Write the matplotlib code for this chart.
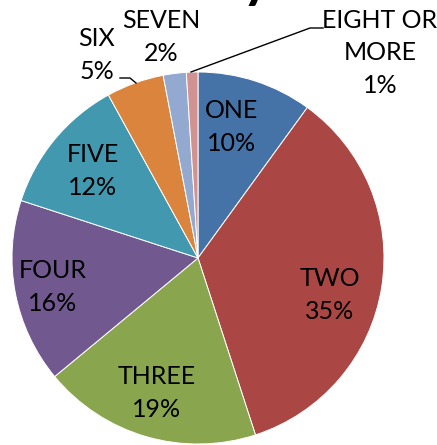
import matplotlib.pyplot as plt

labels = ['ONE', 'TWO', 'THREE', 'FOUR', 'FIVE', 'SIX', 'SEVEN', 'EIGHT OR\nMORE']
values = [10, 35, 19, 16, 12, 5, 2, 1]
colors = ['#4572A7', '#AA4643', '#89A54E', '#71588F', '#4198AF', '#DB843D', '#93A9CF', '#D19392']

# label positions in pixels (x, y from top) of the reference picture
label_px = [(232, 127), (330, 295), (157, 393), (53, 287), (93, 171),
            (97, 55), (161, 37), (380, 53)]

W, H = 437, 445
cx, cy, r = 198, 258, 186


def to_data(px, py):
    return (px - cx) / r, (cy - py) / r


plt.rcParams['font.family'] = ['Lato', 'DejaVu Sans']

fig = plt.figure(figsize=(W / 100, H / 100), dpi=100)
ax = fig.add_axes([0, 0, 1, 1])
ax.pie(values, colors=colors, startangle=90, counterclock=False, radius=1,
       center=(0, 0), wedgeprops=dict(edgecolor='white', linewidth=0.7))
ax.set_xlim(-cx / r, (W - cx) / r)
ax.set_ylim(-(H - cy) / r, cy / r)
ax.set_aspect('equal')
ax.axis('off')

for name, v, (px, py) in zip(labels, values, label_px):
    x, y = to_data(px, py)
    ax.text(x, y, f'{name}\n{v}%', ha='center', va='center', fontsize=18,
            linespacing=1.5, color='black')

# leader lines for the small slices
six = [to_data(*p) for p in [(120, 78), (130, 78), (136, 83)]]
ax.plot([p[0] for p in six], [p[1] for p in six], color='black', lw=1)
eight = [to_data(*p) for p in [(191, 72), (310, 28), (323, 28)]]
ax.plot([p[0] for p in eight], [p[1] for p in eight], color='black', lw=1)

# title, mostly cut off at the top edge (only the tail of the "y" shows)
tx, ty = to_data(272, -3)
ax.text(tx, ty, 'Family', ha='right', va='baseline', fontsize=40,
        fontweight='bold', clip_on=False)

fig.savefig('out.png', dpi=100)
